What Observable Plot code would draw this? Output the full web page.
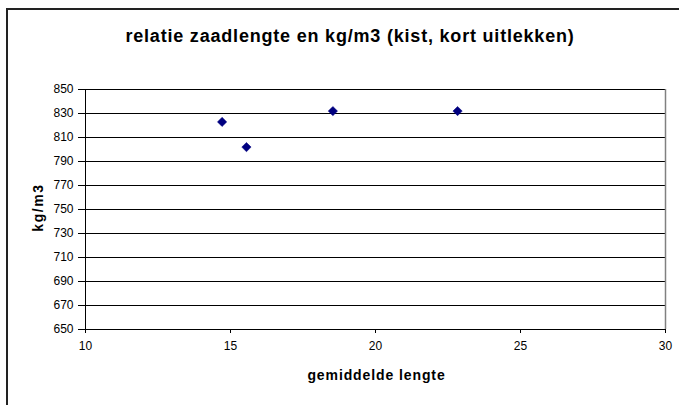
<!DOCTYPE html>
<html>
<head>
<meta charset="utf-8">
<script src="https://cdn.jsdelivr.net/npm/d3@7"></script>
<script src="https://cdn.jsdelivr.net/npm/@observablehq/plot@0.6"></script>
<style>
  html, body { margin: 0; padding: 0; background: #fff; }
  #wrap { position: relative; width: 679px; height: 405px; overflow: hidden; }
  #frame { position: absolute; left: 6px; top: 8px; width: 676px; height: 420px; border: 2px solid #222; box-sizing: border-box; pointer-events: none; }
  svg { font-family: "Liberation Sans", Arial, sans-serif; }
</style>
</head>
<body>
<div id="wrap"><div id="frame"></div></div>
<script>
const lengths = [14.71, 15.55, 18.53, 22.83];
const densities = [823, 802, 832, 832];
const xTicks = [10, 15, 20, 25, 30];
const yTicks = [650, 670, 690, 710, 730, 750, 770, 790, 810, 830, 850];
const title = "relatie zaadlengte en kg/m3 (kist, kort uitlekken)";
const xLabel = "gemiddelde lengte";
const yLabel = "kg/m3";

const data = lengths.map((x, i) => ({x, y: densities[i]}));

const chart = Plot.plot({
  width: 679,
  height: 405,
  marginLeft: 85,
  marginRight: 14,
  marginTop: 89,
  marginBottom: 76,
  style: {fontFamily: "'Liberation Sans', Arial, sans-serif", fontSize: "12px", background: "transparent", color: "#000"},
  x: {domain: [10, 30], ticks: xTicks, label: null},
  y: {domain: [650, 850], ticks: yTicks, label: null},
  marks: [
    Plot.ruleY(yTicks, {stroke: "#000", strokeWidth: 1}),
    Plot.ruleX([30], {stroke: "#808080", strokeWidth: 1.5}),
    Plot.ruleX([10], {stroke: "#000", strokeWidth: 1}),
    Plot.axisX({ticks: xTicks, tickSize: 4, tickPadding: 8, fontSize: 12, stroke: "#000", fill: "#000", label: null}),
    Plot.axisY({ticks: yTicks, tickSize: 7, tickPadding: 5, fontSize: 12, stroke: "#000", fill: "#000", label: null}),
    Plot.dot(data, {x: "x", y: "y", symbol: "diamond2", r: 4.2, fill: "#000080", stroke: "#000080", strokeWidth: 0.5}),
    Plot.text([title], {frameAnchor: "top-left", dx: 349.5 - 85, dy: -60, text: d => d, textAnchor: "middle", fontSize: 18, fontWeight: "bold", fill: "#000"}),
    Plot.text([xLabel], {frameAnchor: "bottom-left", dx: 376 - 85, dy: 50, text: d => d, textAnchor: "middle", fontSize: 14, fontWeight: "bold", fill: "#000"}),
    Plot.text([yLabel], {frameAnchor: "top-left", dx: 33 - 85, dy: 207 - 89, text: d => d, rotate: -90, textAnchor: "middle", fontSize: 14, fontWeight: "bold", fill: "#000"})
  ]
});
const spacing = new Map([[title, "0.8px"], [xLabel, "0.9px"], [yLabel, "1.6px"]]);
d3.select(chart).selectAll("text").each(function() {
  const t = this.textContent;
  if (spacing.has(t)) this.style.letterSpacing = spacing.get(t);
});
document.getElementById("wrap").insertBefore(chart, document.getElementById("frame"));
</script>
</body>
</html>
